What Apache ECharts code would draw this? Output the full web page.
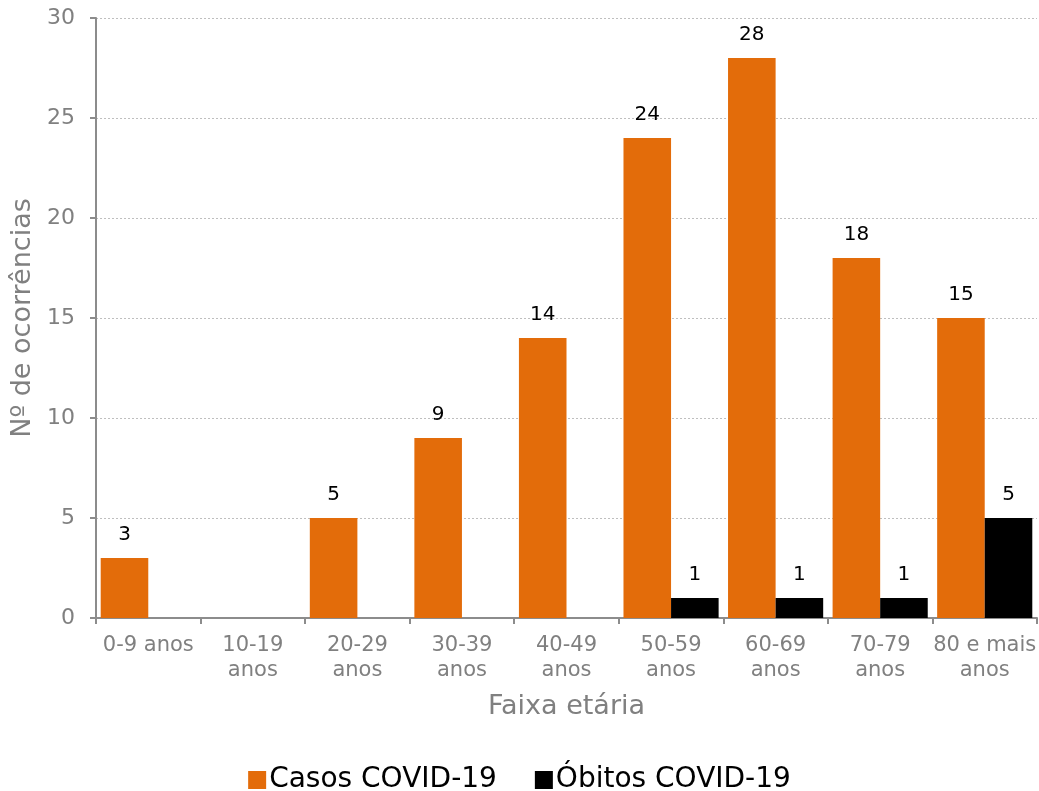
<!DOCTYPE html>
<html>
<head>
<meta charset="utf-8">
<script src="https://cdn.jsdelivr.net/npm/echarts@6/dist/echarts.min.js"></script>
<style>
  html, body { margin: 0; padding: 0; background: #fff; }
  #chart { width: 1039px; height: 791px; }
</style>
</head>
<body>
<div id="chart"></div>
<script>
// Age groups (tick labels wrapped as displayed)
const categories = ['0-9 anos', '10-19\nanos', '20-29\nanos', '30-39\nanos', '40-49\nanos',
                    '50-59\nanos', '60-69\nanos', '70-79\nanos', '80 e mais\nanos'];
const casos = [3, 0, 5, 9, 14, 24, 28, 18, 15];
const obitos = [0, 0, 0, 0, 0, 1, 1, 1, 5];
const seriesNames = ['Casos COVID-19', 'Óbitos COVID-19'];

const FONT = '"DejaVu Sans", Verdana, sans-serif';
const GRAY = '#808080';
const AXIS = '#8c8c8c';

const labelOpt = {
  show: true,
  position: 'top',
  distance: 13,
  color: '#000',
  fontSize: 20,
  fontFamily: FONT,
  formatter: p => (p.value ? p.value : '')
};

const chart = echarts.init(document.getElementById('chart'));
chart.setOption({
  animation: false,
  textStyle: { fontFamily: FONT },
  grid: { left: 96, right: 2, top: 18, bottom: 173, containLabel: false, outerBoundsMode: 'none' },
  legend: {
    top: 761,
    left: 'center',
    itemWidth: 18,
    itemHeight: 18,
    itemGap: 38,
    icon: 'rect',
    textStyle: { fontSize: 28, color: '#000', fontFamily: FONT, padding: [0, 0, 0, -2] },
    data: seriesNames
  },
  xAxis: {
    type: 'category',
    data: categories,
    name: 'Faixa etária',
    nameLocation: 'middle',
    nameGap: 75,
    nameTextStyle: { fontSize: 27, color: GRAY, fontFamily: FONT },
    axisLine: { lineStyle: { color: AXIS, width: 2 } },
    axisTick: { show: true, length: 6, lineStyle: { color: AXIS, width: 2 } },
    axisLabel: { color: GRAY, fontSize: 21, fontFamily: FONT, margin: 15, lineHeight: 25, interval: 0 }
  },
  yAxis: {
    type: 'value',
    min: 0,
    max: 30,
    interval: 5,
    name: 'Nº de ocorrências',
    nameLocation: 'middle',
    nameGap: 60,
    nameTextStyle: { fontSize: 27, color: GRAY, fontFamily: FONT },
    axisLine: { show: true, lineStyle: { color: AXIS, width: 2 } },
    axisTick: { show: true, length: 6, lineStyle: { color: AXIS, width: 2 } },
    axisLabel: { color: GRAY, fontSize: 22, fontFamily: FONT, margin: 21 },
    splitLine: { lineStyle: { color: '#bfbfbf', type: [2, 2], width: 1 } }
  },
  series: [
    {
      name: seriesNames[0],
      type: 'bar',
      data: casos,
      barGap: '0%',
      barCategoryGap: '9%',
      itemStyle: { color: '#e36c0a' },
      label: labelOpt
    },
    {
      name: seriesNames[1],
      type: 'bar',
      data: obitos,
      itemStyle: { color: '#000000' },
      label: labelOpt
    }
  ]
});
</script>
</body>
</html>
